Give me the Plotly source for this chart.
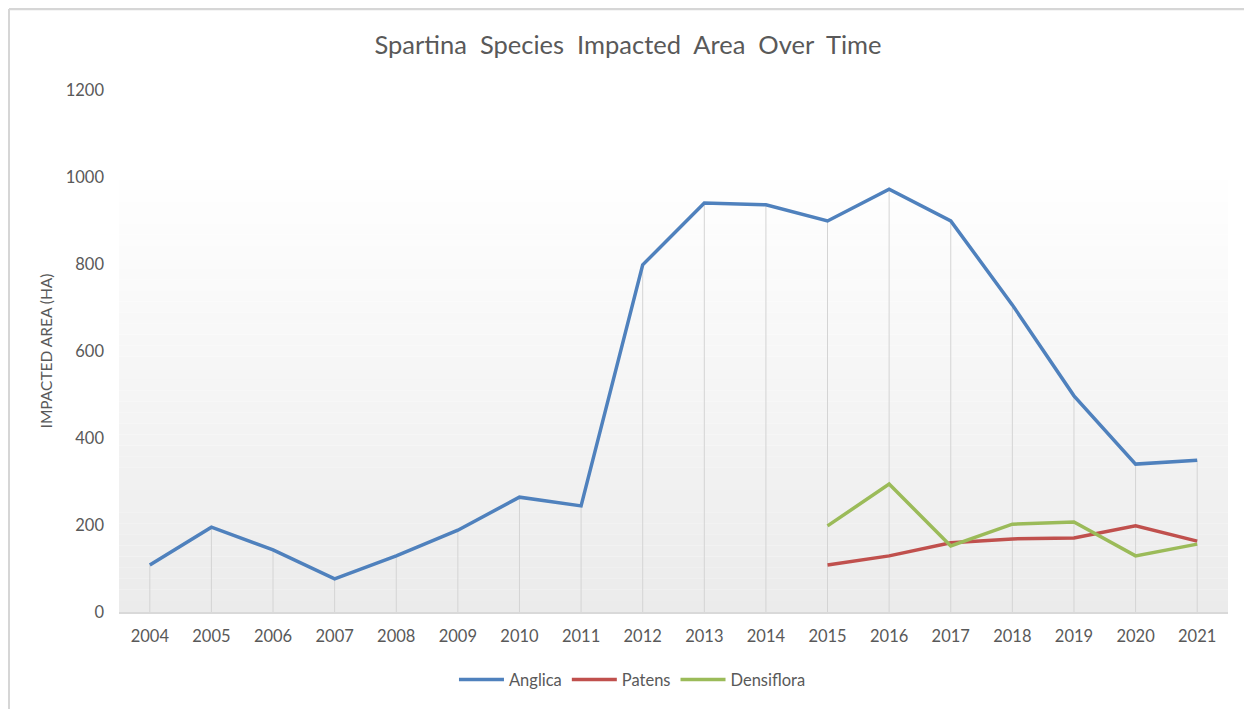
import plotly.graph_objects as go

years = [str(y) for y in range(2004, 2022)]
anglica = [108, 195, 143, 76, 129, 188, 264, 244, 798, 940, 936, 899, 972, 899, 706, 497, 340, 349]
years_late = [str(y) for y in range(2015, 2022)]
patens = [108, 129, 159, 168, 170, 198, 163]
densiflora = [198, 294, 152, 202, 207, 129, 156]

series_names = ["Anglica", "Patens", "Densiflora"]
colors = ["#4F81BD", "#C0504D", "#9BBB59"]

font = "Lato"
grey = "#595959"

fig = go.Figure()

# drop lines from the highest point of each category down to zero
dx, dy = [], []
for yr, v in zip(years, anglica):
    dx += [yr, yr, None]
    dy += [0, v, None]
fig.add_trace(go.Scatter(x=dx, y=dy, mode="lines", line=dict(color="#d4d4d4", width=1),
                         showlegend=False, hoverinfo="skip"))

fig.add_trace(go.Scatter(x=years, y=anglica, name=series_names[0], mode="lines",
                         line=dict(color=colors[0], width=3.5)))
fig.add_trace(go.Scatter(x=years_late, y=patens, name=series_names[1], mode="lines",
                         line=dict(color=colors[1], width=3.5)))
fig.add_trace(go.Scatter(x=years_late, y=densiflora, name=series_names[2], mode="lines",
                         line=dict(color=colors[2], width=3.5)))

# gradient background of the plot area
shapes = []
n = 40
top = 0.85
for i in range(n):
    f0 = i / n
    f1 = (i + 1) / n
    t = 1 - (f0 + f1) / 2
    g = int(round(255 - 20 * t))
    shapes.append(dict(type="rect", xref="x domain", yref="y domain",
                       x0=0, x1=1, y0=f0 * top, y1=f1 * top,
                       fillcolor=f"rgb({g},{g},{g})", line=dict(width=0), layer="below"))
# chart border (top, left, right)
bx0, bx1, by0, by1 = -0.0992, 1.018, -0.2, 1.1552
shapes.append(dict(type="line", xref="paper", yref="paper", x0=bx0, x1=bx1, y0=by1, y1=by1,
                   line=dict(color="#d6d6d6", width=2.5)))
shapes.append(dict(type="line", xref="paper", yref="paper", x0=bx0, x1=bx0, y0=by0, y1=by1,
                   line=dict(color="#d6d6d6", width=2)))
shapes.append(dict(type="line", xref="paper", yref="paper", x0=bx1, x1=bx1, y0=by0, y1=by1,
                   line=dict(color="#eeeeee", width=1.5)))

fig.update_layout(
    width=1252, height=709,
    margin=dict(l=111, r=32, t=82, b=105),
    paper_bgcolor="white", plot_bgcolor="white",
    font=dict(family=font, color=grey, size=16),
    title=dict(text="Spartina  Species  Impacted  Area  Over  Time", x=0.459, xanchor="center",
               xref="paper", y=1 - 37 / 709, yanchor="middle",
               font=dict(family=font, size=25.5, color=grey)),
    xaxis=dict(type="category", range=[-0.5, 17.5], showgrid=False, zeroline=False,
               showline=True, linecolor="#d9d9d9", linewidth=1.5, ticks="",
               ticklabelstandoff=8, tickfont=dict(size=16.5, color=grey)),
    yaxis=dict(range=[0, 1200], dtick=200, showgrid=False, zeroline=False, showline=False,
               ticks="", ticklabelstandoff=14, tickfont=dict(size=16.5, color=grey),
               title=dict(text="IMPACTED AREA (HA)", font=dict(size=15.5, color=grey), standoff=9)),
    legend=dict(orientation="h", x=0.463, xanchor="center", y=-0.13, yanchor="middle",
                font=dict(size=16.5, color=grey), itemwidth=45, bgcolor="rgba(0,0,0,0)"),
    shapes=shapes,
    showlegend=True,
)

fig.write_html("out.html")
